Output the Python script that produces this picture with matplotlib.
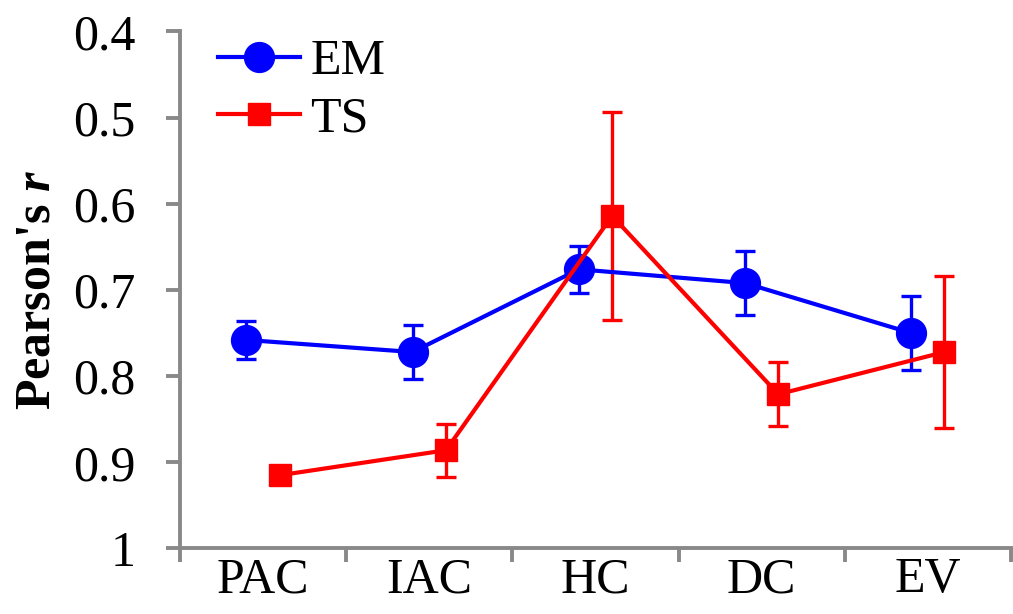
import matplotlib
matplotlib.use("Agg")
import matplotlib.pyplot as plt
from matplotlib import font_manager
import numpy as np
import glob

# data
regions = ["PAC", "IAC", "HC", "DC", "EV"]
em_r = [0.758, 0.772, 0.676, 0.692, 0.750]
em_err = [0.022, 0.031, 0.027, 0.037, 0.043]
ts_r = [0.915, 0.886, 0.614, 0.821, 0.772]
ts_err = [0.004, 0.031, 0.121, 0.037, 0.088]

# make sure Liberation Serif is registered
for f in glob.glob('/usr/share/fonts/**/Liberation*Serif*.ttf', recursive=True):
    font_manager.fontManager.addfont(f)

serif = 'Liberation Serif'
plt.rcParams['font.family'] = [serif, 'DejaVu Serif']
plt.rcParams['mathtext.fontset'] = 'custom'
plt.rcParams['mathtext.rm'] = serif
plt.rcParams['mathtext.it'] = serif + ':italic'
plt.rcParams['mathtext.bf'] = serif + ':bold'
plt.rcParams['mathtext.bfit'] = serif + ':bold:italic'
gray = '#898989'

fig = plt.figure(figsize=(10.13, 6.14), dpi=100)
ax = fig.add_axes([0.1777, 0.1067, 0.8203, 0.842])

x = np.arange(len(regions))
em = ax.errorbar(x - 0.1, em_r, yerr=em_err, color='#0000FF', lw=3, marker='o',
                 ms=21.5, elinewidth=2.4, capsize=7, capthick=2.4)
ts = ax.errorbar(x + 0.1, ts_r, yerr=ts_err, color='#FF0000', lw=3, marker='s',
                 ms=16, elinewidth=2.4, capsize=7, capthick=2.4)

ax.set_xlim(-0.5, len(regions) - 0.5)
ax.set_ylim(1.0, 0.4)
ax.set_yticks([0.4, 0.5, 0.6, 0.7, 0.8, 0.9, 1.0])
ax.set_yticklabels(['0.4', '0.5', '0.6', '0.7', '0.8', '0.9', '1'])
ax.set_xticks(np.arange(len(regions) + 1) - 0.5)
ax.set_xticklabels([])
ax.set_xticks(x, minor=True)
ax.set_xticklabels(regions, minor=True)

ax.tick_params(axis='both', which='major', direction='out', length=10,
               width=2.8, color=gray, labelsize=36)
ax.tick_params(axis='x', which='minor', length=0, labelsize=36, pad=6)
ax.tick_params(axis='y', pad=22)

for s in ['top', 'right']:
    ax.spines[s].set_visible(False)
for s in ['left', 'bottom']:
    ax.spines[s].set_color(gray)
    ax.spines[s].set_linewidth(2.8)

ax.set_ylabel("Pearson's $\\mathbfit{r}$", fontsize=36, fontweight='bold',
              labelpad=9)

ax.legend([em[0], ts[0]], ['EM', 'TS'], loc='upper left',
          bbox_to_anchor=(0.215, 0.937), bbox_transform=fig.transFigure,
          frameon=False, fontsize=36, handlelength=1.65, handletextpad=0.2,
          labelspacing=0.22, borderaxespad=0, borderpad=0)

fig.savefig("out.png", dpi=100)
